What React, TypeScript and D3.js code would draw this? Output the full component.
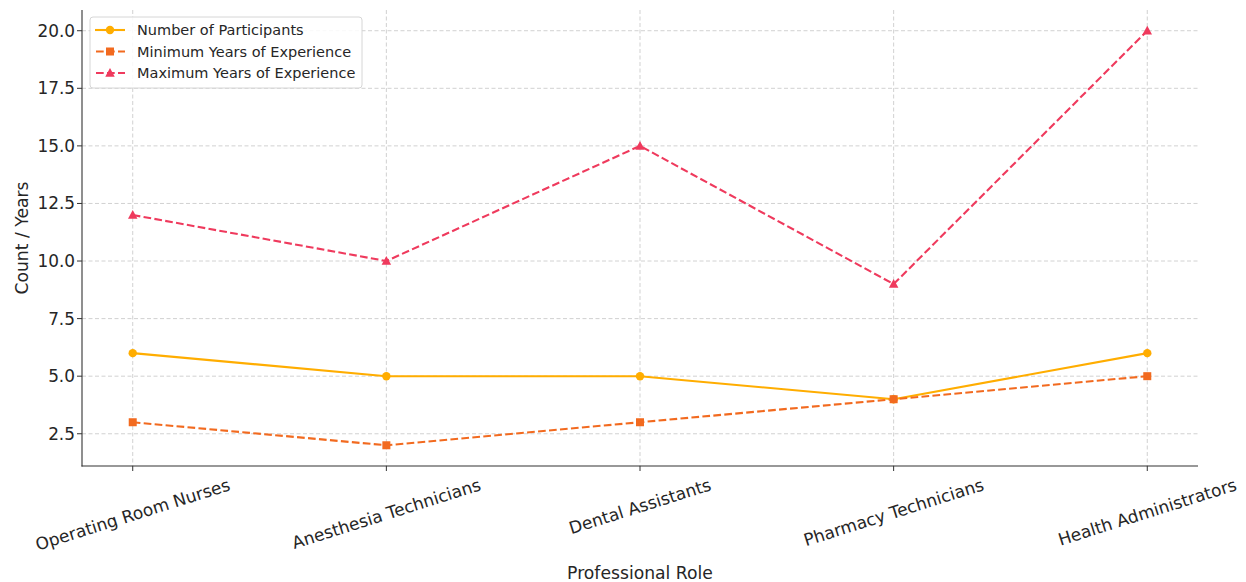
import React, { useEffect, useRef } from "react";
import * as d3 from "d3";

const categories = [
  "Operating Room Nurses",
  "Anesthesia Technicians",
  "Dental Assistants",
  "Pharmacy Technicians",
  "Health Administrators",
];
const participants = [6, 5, 5, 4, 6];
const minYears = [3, 2, 3, 4, 5];
const maxYears = [12, 10, 15, 9, 20];
const yTicks = [2.5, 5.0, 7.5, 10.0, 12.5, 15.0, 17.5, 20.0];

const seriesNames = [
  "Number of Participants",
  "Minimum Years of Experience",
  "Maximum Years of Experience",
];
const seriesColors = ["#FFAD00", "#F26A1F", "#EF3A5D"];

const W = 1246;
const H = 582;
const M = { left: 82, right: 1198, top: 10, bottom: 466 };
const FONT = "DejaVu Sans, sans-serif";

export default function App() {
  const ref = useRef<SVGSVGElement>(null);

  useEffect(() => {
    const svg = d3.select(ref.current);
    svg.selectAll("*").remove();

    const x = d3.scaleLinear().domain([-0.2, 4.2]).range([M.left, M.right]);
    const y = d3.scaleLinear().domain([1.1, 20.9]).range([M.bottom, M.top]);

    const g = svg.append("g");

    // grid
    const grid = g.append("g");
    categories.forEach((_, i) => {
      grid
        .append("line")
        .attr("x1", x(i))
        .attr("x2", x(i))
        .attr("y1", M.top)
        .attr("y2", M.bottom)
        .attr("stroke", "#cccccc")
        .attr("stroke-width", 0.9)
        .attr("stroke-dasharray", "4,2.5");
    });
    yTicks.forEach((t) => {
      grid
        .append("line")
        .attr("x1", M.left)
        .attr("x2", M.right)
        .attr("y1", y(t))
        .attr("y2", y(t))
        .attr("stroke", "#cccccc")
        .attr("stroke-width", 0.9)
        .attr("stroke-dasharray", "4,2.5");
    });

    // series
    const data = [participants, minYears, maxYears];
    const dashes = [null, "7.7,3.3", "7.7,3.3"];
    const line = d3
      .line<number>()
      .x((_, i) => x(i))
      .y((d) => y(d));

    const drawMarker = (sel: any, k: number, cx: number, cy: number, s = 1) => {
      const c = seriesColors[k];
      if (k === 0) {
        sel.append("circle").attr("cx", cx).attr("cy", cy).attr("r", 4.2 * s).attr("fill", c);
      } else if (k === 1) {
        const a = 8 * s;
        sel.append("rect").attr("x", cx - a / 2).attr("y", cy - a / 2).attr("width", a).attr("height", a).attr("fill", c);
      } else {
        const r = 5 * s;
        sel
          .append("path")
          .attr(
            "d",
            `M${cx},${cy - r} L${cx + r * 0.95},${cy + r * 0.75} L${cx - r * 0.95},${cy + r * 0.75} Z`
          )
          .attr("fill", c);
      }
    };

    data.forEach((vals, k) => {
      const p = g
        .append("path")
        .attr("d", line(vals) as string)
        .attr("fill", "none")
        .attr("stroke", seriesColors[k])
        .attr("stroke-width", 2.1);
      if (dashes[k]) p.attr("stroke-dasharray", dashes[k] as string);
    });
    data.forEach((vals, k) => {
      const mg = g.append("g");
      vals.forEach((v, i) => drawMarker(mg, k, x(i), y(v)));
    });

    // spines
    g.append("line")
      .attr("x1", M.left).attr("x2", M.left)
      .attr("y1", M.top).attr("y2", M.bottom + 0.5)
      .attr("stroke", "#333").attr("stroke-width", 1.1);
    g.append("line")
      .attr("x1", M.left - 0.5).attr("x2", M.right)
      .attr("y1", M.bottom).attr("y2", M.bottom)
      .attr("stroke", "#333").attr("stroke-width", 1.1);

    // y ticks
    yTicks.forEach((t) => {
      g.append("line")
        .attr("x1", M.left - 5).attr("x2", M.left)
        .attr("y1", y(t)).attr("y2", y(t))
        .attr("stroke", "#333").attr("stroke-width", 1);
      g.append("text")
        .attr("x", M.left - 7)
        .attr("y", y(t))
        .attr("text-anchor", "end")
        .attr("dominant-baseline", "central")
        .attr("font-family", FONT)
        .attr("font-size", 16.9)
        .attr("fill", "#262626")
        .text(t.toFixed(1));
    });

    // x ticks
    categories.forEach((c, i) => {
      g.append("line")
        .attr("x1", x(i)).attr("x2", x(i))
        .attr("y1", M.bottom).attr("y2", M.bottom + 5)
        .attr("stroke", "#333").attr("stroke-width", 1);
      const t = g
        .append("text")
        .attr("text-anchor", "middle")
        .attr("dominant-baseline", "central")
        .attr("font-family", FONT)
        .attr("font-size", 17)
        .attr("fill", "#262626")
        .text(c);
      const w = (t.node() as SVGTextElement).getComputedTextLength();
      const hh = 17;
      const ang = 17.5;
      const a = (ang * Math.PI) / 180;
      const bh = w * Math.sin(a) + hh * Math.cos(a);
      const cy = M.bottom + 10 + bh / 2;
      t.attr("transform", `translate(${x(i)},${cy}) rotate(${-ang})`);
    });

    // axis labels
    g.append("text")
      .attr("x", (M.left + M.right) / 2)
      .attr("y", 573)
      .attr("text-anchor", "middle")
      .attr("dominant-baseline", "central")
      .attr("font-family", FONT)
      .attr("font-size", 17.2)
      .attr("fill", "#262626")
      .text("Professional Role");
    g.append("text")
      .attr("transform", `translate(22,${(M.top + M.bottom) / 2}) rotate(-90)`)
      .attr("text-anchor", "middle")
      .attr("dominant-baseline", "central")
      .attr("font-family", FONT)
      .attr("font-size", 17.2)
      .attr("fill", "#262626")
      .text("Count / Years");

    // legend
    const lg = g.append("g");
    lg.append("rect")
      .attr("x", 90).attr("y", 17).attr("width", 272).attr("height", 71)
      .attr("rx", 3)
      .attr("fill", "white").attr("fill-opacity", 0.85)
      .attr("stroke", "#d6d6d6").attr("stroke-width", 1);
    seriesNames.forEach((name, k) => {
      const ly = 30 + k * 21.5;
      const l = lg.append("line")
        .attr("x1", 95).attr("x2", 125)
        .attr("y1", ly).attr("y2", ly)
        .attr("stroke", seriesColors[k]).attr("stroke-width", 2.1);
      if (dashes[k]) l.attr("stroke-dasharray", "7.7,3.3").attr("x1", 96);
      drawMarker(lg, k, 110, ly);
      lg.append("text")
        .attr("x", 137)
        .attr("y", ly)
        .attr("dominant-baseline", "central")
        .attr("font-family", FONT)
        .attr("font-size", 14.5)
        .attr("fill", "#262626")
        .text(name);
    });
  }, []);

  return (
    <svg
      ref={ref}
      width={W}
      height={H}
      style={{ position: "absolute", left: 0, top: 0, display: "block", background: "white" }}
    />
  );
}
